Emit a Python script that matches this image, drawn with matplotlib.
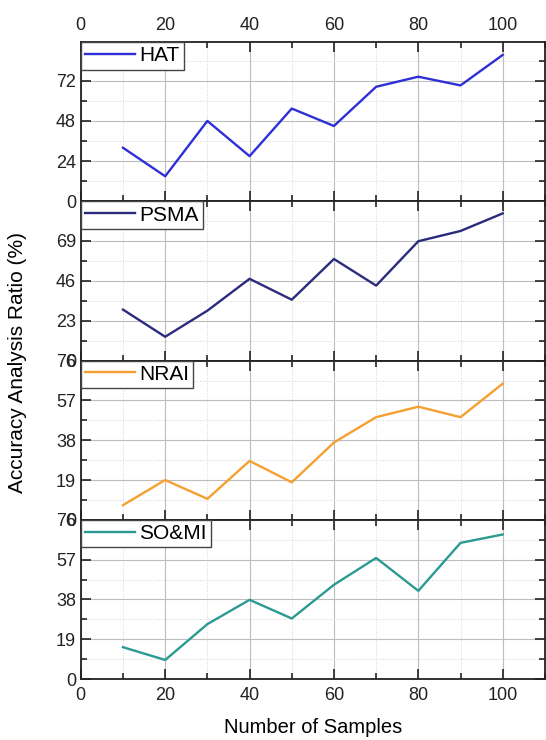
import matplotlib.pyplot as plt
from matplotlib.ticker import MultipleLocator

plt.rcParams['font.family'] = ['Liberation Sans', 'DejaVu Sans']

# data
samples = [10, 20, 30, 40, 50, 60, 70, 80, 90, 100]
hat = [32, 15, 48, 27, 55.4, 45, 68.4, 74.4, 69.2, 87.4]
psma = [29.3, 13.7, 28.7, 47, 35, 58.4, 43.1, 68.6, 74.5, 84.6]
nrai = [7, 19, 10, 28.1, 17.9, 36.9, 49, 54, 49, 65]
somi = [15.2, 9.1, 26.2, 37.8, 28.9, 45, 57.8, 42.1, 65, 69]

names = ["HAT", "PSMA", "NRAI", "SO&MI"]
series = [hat, psma, nrai, somi]
colors = ["#2f2fd8", "#2b2b7e", "#f5a030", "#2a9a92"]
steps = [24, 23, 19, 19]
tops = [95, 91.5, 76, 76]

fig = plt.figure(figsize=(5.46, 7.40), dpi=100)
left, width = 0.148, 0.850
bottom, top = 0.0824, 0.943
h = (top - bottom) / 4

for i in range(4):
    ax = fig.add_axes([left, top - (i + 1) * h, width, h])
    ax.plot(samples, series[i], color=colors[i], lw=1.7, label=names[i])
    ax.set_xlim(0, 110)
    ax.set_ylim(0, tops[i])
    ax.xaxis.set_major_locator(MultipleLocator(20))
    ax.xaxis.set_minor_locator(MultipleLocator(10))
    ax.yaxis.set_major_locator(MultipleLocator(steps[i]))
    ax.yaxis.set_minor_locator(MultipleLocator(steps[i] / 2))
    ax.grid(which='major', color='#bdbdbd', lw=0.8)
    ax.grid(which='minor', color='#d5d5d5', lw=0.7, ls=':')
    ax.set_axisbelow(True)
    ax.tick_params(which='both', direction='in', top=True, right=True,
                   labelsize=13, width=1.2, colors='#222222')
    ax.tick_params(which='major', length=7)
    ax.tick_params(which='minor', length=4)
    ax.tick_params(axis='x', labelbottom=(i == 3), labeltop=(i == 0), pad=6)
    for s in ax.spines.values():
        s.set_linewidth(1.3)
        s.set_color('#222222')
    leg = ax.legend(loc='upper left', borderaxespad=0, fontsize=15,
                    handlelength=2.4, handletextpad=0.2, borderpad=0.2,
                    fancybox=False, framealpha=1)
    leg.get_frame().set_edgecolor('#444444')
    leg.get_frame().set_linewidth(1.0)
    if i == 3:
        ax.set_xlabel("Number of Samples", fontsize=14.5, labelpad=10)

fig.text(0.032, 0.51, "Accuracy Analysis Ratio (%)", rotation=90,
         fontsize=15, va='center', ha='center')

fig.savefig("out.png", dpi=100)
